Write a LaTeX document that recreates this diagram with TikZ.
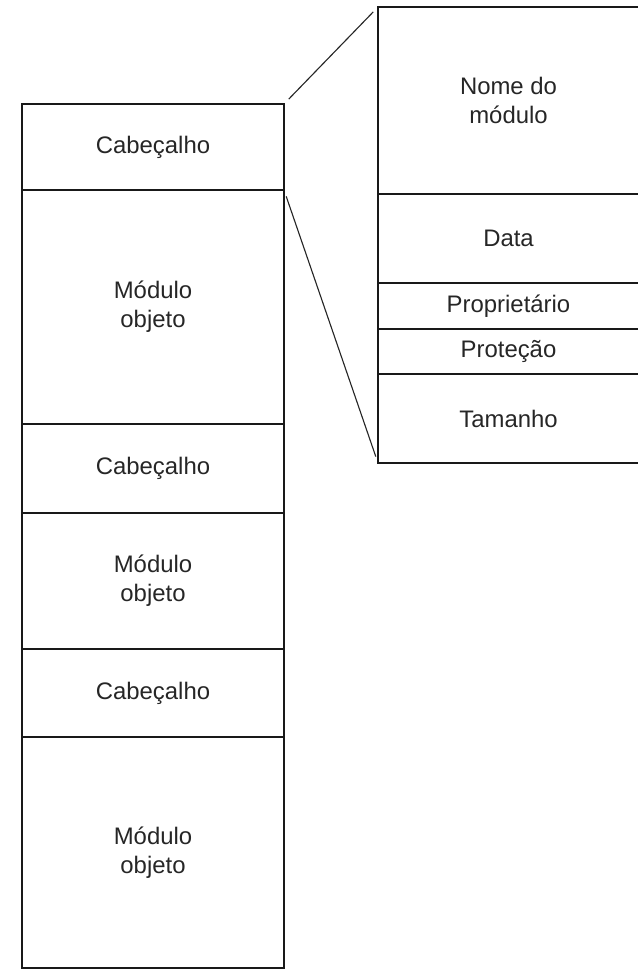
\documentclass[tikz,border=0pt]{standalone}
\usepackage{fontspec}
\setmainfont{Liberation Sans}
\usetikzlibrary{positioning}
\tikzset{
	campo/.style={draw=black!90, line width=2pt, outer sep=0pt, inner sep=0pt, align=center, text=black!85, font=\fontsize{17}{20.5}\selectfont},
	esq/.style={campo, minimum width=6.55cm},
	dir/.style={campo, minimum width=6.525cm},
	ligacao/.style={line width=0.8pt, draw=black!85, shorten <=0.17cm, shorten >=0.17cm}
}
\begin{document}
\begin{tikzpicture}
	\useasboundingbox (0,0) rectangle (15.925,-24.225);
	% arquivo com os modulos
	\node[esq, minimum height=2.15cm, anchor=north west] (cab1) at (0.55,-2.6) {Cabeçalho};
	\node[esq, minimum height=5.85cm, below=0pt of cab1] (mod1) {Módulo\\objeto};
	\node[esq, minimum height=2.225cm, below=0pt of mod1] (cab2) {Cabeçalho};
	\node[esq, minimum height=3.4cm, below=0pt of cab2] (mod2) {Módulo\\objeto};
	\node[esq, minimum height=2.2cm, below=0pt of mod2] (cab3) {Cabeçalho};
	\node[esq, minimum height=5.775cm, below=0pt of cab3] (mod3) {Módulo\\objeto};
	% campos do cabecalho
	\node[dir, minimum height=4.675cm, anchor=north west] (nome) at (9.45,-0.175) {Nome do\\módulo};
	\node[dir, minimum height=2.225cm, below=0pt of nome] (data) {Data};
	\node[dir, minimum height=1.15cm, below=0pt of data] (prop) {Proprietário};
	\node[dir, minimum height=1.125cm, below=0pt of prop] (prot) {Proteção};
	\node[dir, minimum height=2.225cm, below=0pt of prot] (tam) {Tamanho};
	\draw[ligacao] (cab1.north east) -- (nome.north west);
	\draw[ligacao] (cab1.south east) -- (tam.south west);
\end{tikzpicture}
\end{document}
